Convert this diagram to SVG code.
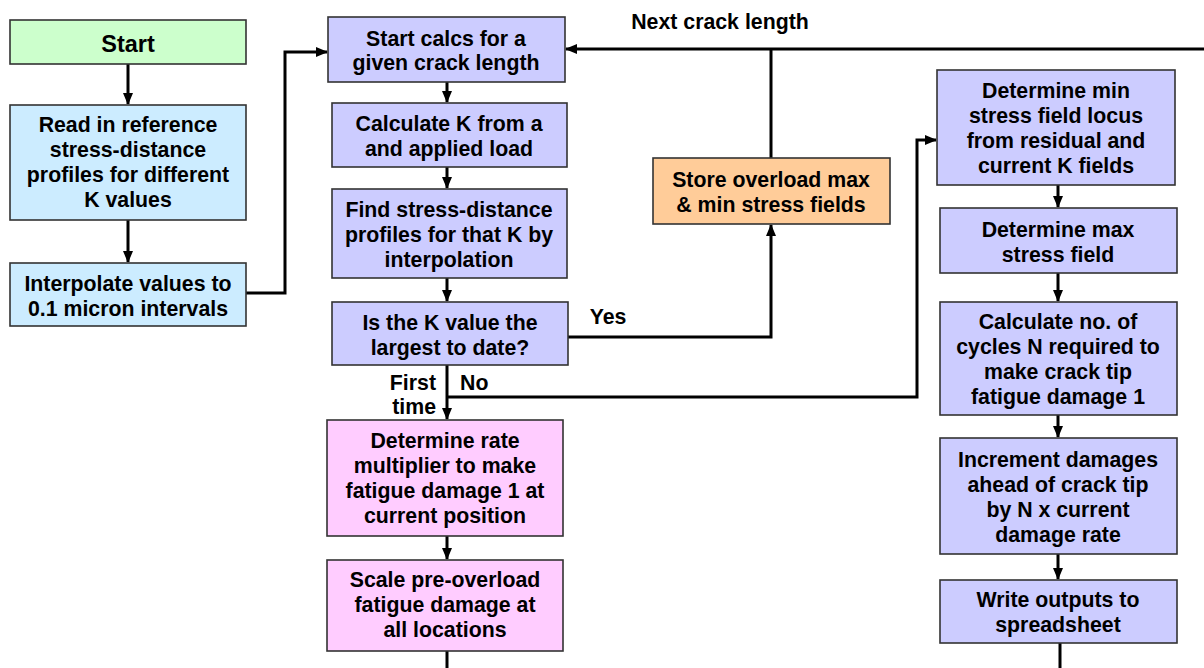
<svg xmlns="http://www.w3.org/2000/svg" width="1204" height="668" viewBox="0 0 1204 668">
<style>
.box{stroke:#333;stroke-width:1.6}
.g{fill:#CCFFCC}.b{fill:#CCECFF}.l{fill:#CCCCFF}.o{fill:#FFCC99}.p{fill:#FFCCFF}
text{font-family:"Liberation Sans",Arial,sans-serif;font-weight:bold;font-size:21.3px;fill:#000;text-anchor:middle}
.c{fill:none;stroke:#000;stroke-width:3}
.a{marker-end:url(#ah)}
</style>
<defs>
<marker id="ah" markerUnits="userSpaceOnUse" markerWidth="12" markerHeight="10" refX="11" refY="5" orient="auto">
<path d="M0,0 L12,5 L0,10 Z" fill="#000"/>
</marker>
</defs>
<rect width="1204" height="668" fill="#fff"/>
<g id="connectors">
<path class="c a" d="M128 64 V104"/>
<path class="c a" d="M128 220 V262"/>
<path class="c a" d="M246 293 H285 V52 H327"/>
<path class="c a" d="M447 82 V102"/>
<path class="c a" d="M447 167 V188"/>
<path class="c a" d="M447 278 V301"/>
<path class="c a" d="M447 365 V419"/>
<path class="c a" d="M568 337 H771 V225"/>
<path class="c a" d="M447 397 H917 V140 H936"/>
<path class="c" d="M771 158 V49"/>
<path class="c a" d="M1204 49 H566"/>
<path class="c a" d="M447 536 V559"/>
<path class="c" d="M447 651 V668"/>
<path class="c a" d="M1058 185 V207"/>
<path class="c a" d="M1058 273 V301"/>
<path class="c a" d="M1058 415 V437"/>
<path class="c a" d="M1058 554 V579"/>
<path class="c" d="M1060 643 V668"/>
</g>
<g id="labels">
<text x="720" y="29">Next crack length</text>
<text x="608" y="324">Yes</text>
<text x="436" y="390" style="text-anchor:end">First</text>
<text x="436" y="414" style="text-anchor:end">time</text>
<text x="460" y="390" style="text-anchor:start">No</text>
</g>
<g id="start"><rect class="box g" x="10" y="20" width="236" height="44"/><text x="128" y="52" style="font-size:23.5px">Start</text></g>
<g id="readin"><rect class="box b" x="10" y="105" width="236" height="115"/>
<text x="128" y="132">Read in reference</text><text x="128" y="157">stress-distance</text><text x="128" y="182">profiles for different</text><text x="128" y="207">K values</text></g>
<g id="interp"><rect class="box b" x="10" y="263" width="236" height="63"/>
<text x="128" y="291">Interpolate values to</text><text x="128" y="316">0.1 micron intervals</text></g>
<g id="startcalcs"><rect class="box l" x="328" y="17" width="237" height="65"/>
<text x="446" y="46">Start calcs for a</text><text x="446" y="70">given crack length</text></g>
<g id="calck"><rect class="box l" x="332" y="103" width="235" height="64"/>
<text x="449" y="131">Calculate K from a</text><text x="449" y="156">and applied load</text></g>
<g id="findstress"><rect class="box l" x="332" y="189" width="235" height="89"/>
<text x="449" y="217">Find stress-distance</text><text x="449" y="242">profiles for that K by</text><text x="449" y="267">interpolation</text></g>
<g id="isk"><rect class="box l" x="332" y="302" width="236" height="63"/>
<text x="450" y="330">Is the K value the</text><text x="450" y="355">largest to date?</text></g>
<g id="rate"><rect class="box p" x="327" y="420" width="236" height="116"/>
<text x="445" y="448">Determine rate</text><text x="445" y="473">multiplier to make</text><text x="445" y="498">fatigue damage 1 at</text><text x="445" y="523">current position</text></g>
<g id="scale"><rect class="box p" x="327" y="560" width="236" height="91"/>
<text x="445" y="587">Scale pre-overload</text><text x="445" y="612">fatigue damage at</text><text x="445" y="637">all locations</text></g>
<g id="store"><rect class="box o" x="653" y="158" width="237" height="66"/>
<text x="771" y="187">Store overload max</text><text x="771" y="212">&amp; min stress fields</text></g>
<g id="detmin"><rect class="box l" x="937" y="70" width="238" height="115"/>
<text x="1056" y="98">Determine min</text><text x="1056" y="123">stress field locus</text><text x="1056" y="148">from residual and</text><text x="1056" y="173">current K fields</text></g>
<g id="detmax"><rect class="box l" x="940" y="208" width="237" height="65"/>
<text x="1058" y="237">Determine max</text><text x="1058" y="262">stress field</text></g>
<g id="calcn"><rect class="box l" x="940" y="302" width="237" height="113"/>
<text x="1058" y="329">Calculate no. of</text><text x="1058" y="354">cycles N required to</text><text x="1058" y="379">make crack tip</text><text x="1058" y="404">fatigue damage 1</text></g>
<g id="increment"><rect class="box l" x="940" y="438" width="237" height="116"/>
<text x="1058" y="467">Increment damages</text><text x="1058" y="492">ahead of crack tip</text><text x="1058" y="517">by N x current</text><text x="1058" y="542">damage rate</text></g>
<g id="write"><rect class="box l" x="940" y="580" width="237" height="63"/>
<text x="1058" y="607">Write outputs to</text><text x="1058" y="632">spreadsheet</text></g>
</svg>
